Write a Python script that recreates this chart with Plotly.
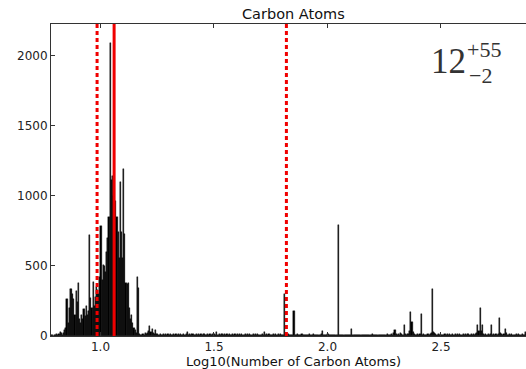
import plotly.graph_objects as go

# Histogram bins (log10 of number of carbon atoms)
BIN_START = 0.78
BIN_WIDTH = 0.005

# counts for bins 0.780 .. 1.250
PEAK_COUNTS = [
    5, 8, 3, 10, 6, 12, 8, 15, 30, 18,
    10, 25, 40, 60, 262, 90, 200, 338, 338, 300,
    267, 150, 320, 240, 378, 124, 90, 148, 120, 190,
    140, 214, 148, 180, 719, 271, 200, 386, 212, 280,
    350, 330, 300, 420, 785, 400, 505, 500, 457, 600,
    700, 850, 2090, 1111, 1140, 1000, 900, 960, 850, 740,
    560, 1100, 740, 560, 1188, 730, 380, 370, 380, 200,
    120, 148, 90, 60, 40, 20, 421, 340, 15, 10,
    8, 12, 6, 20, 14, 25, 35, 69, 30, 52,
    20, 15, 45, 12,
]

# counts for bins 1.250 .. 2.880
TAIL_COUNTS = [
    14, 9, 12, 7, 10, 16, 8, 11, 6, 13, 9, 15, 7, 10, 12, 8, 14, 6, 11, 9,
    13, 7, 10, 15, 8, 12, 29, 9, 14, 7, 11, 16, 8, 10, 13, 6, 12, 9, 15, 8,
    11, 14, 7, 10, 13, 8, 12, 6, 15, 9, 11, 7, 29, 10, 13, 8, 12, 16, 7, 11,
    9, 14, 8, 12, 6, 10, 15, 7, 13, 9, 11, 8, 14, 6, 12, 10, 7, 13, 9, 11,
    8, 12, 6, 10, 14, 7, 11, 9, 13, 5, 10, 8, 12, 7, 29, 9, 11, 6, 13, 8,
    10, 7, 12, 9, 14, 6, 11, 8, 13, 7, 10, 9, 302, 6, 8, 12, 5, 10, 7, 9,
    178, 8, 6, 11, 5, 9, 7, 12, 4, 8, 10, 6, 9, 5, 11, 7, 8, 13, 6, 9,
    5, 10, 7, 8, 12, 33, 6, 9, 4, 8, 11, 5, 7, 10, 6, 9, 4, 8, 6, 790,
    7, 5, 9, 4, 8, 6, 10, 5, 7, 9, 4, 48, 6, 8, 5, 10, 7, 4, 9, 6,
    8, 5, 7, 10, 4, 9, 6, 8, 5, 11, 7, 4, 9, 6, 8, 5, 10, 7, 6, 9,
    5, 8, 12, 7, 10, 6, 14, 9, 18, 40, 11, 8, 15, 10, 22, 12, 9, 81, 14, 10,
    16, 12, 38, 171, 100, 30, 14, 10, 8, 12, 7, 11, 155, 9, 13, 8, 10, 6, 12, 9,
    14, 18, 338, 29, 20, 12, 9, 11, 7, 13, 8, 10, 6, 12, 9, 14, 7, 11, 8, 10,
    12, 7, 15, 9, 11, 6, 13, 8, 10, 14, 7, 12, 9, 11, 16, 8, 13, 10, 12, 9,
    14, 20, 76, 35, 202, 38, 81, 15, 10, 12, 8, 13, 9, 11, 81, 10, 14, 7, 12, 9,
    16, 131, 18, 11, 9, 13, 52, 20, 10, 8, 12, 7, 11, 9, 6, 10, 13, 8, 11, 7,
    9, 12, 8, 10, 29, 11,
]

MEDIAN = 1.060
LOWER = 0.985
UPPER = 1.819

TITLE = "Carbon Atoms"
XLABEL = "Log10(Number of Carbon Atoms)"
X_TICKS = [1.0, 1.5, 2.0, 2.5]
X_TICK_TEXT = ["1.0", "1.5", "2.0", "2.5"]
Y_TICKS = [0, 500, 1000, 1500, 2000]
STAT_MAIN = "12"
STAT_UP = "+55"
STAT_DOWN = "\u22122"

counts = PEAK_COUNTS + TAIL_COUNTS
centers = [BIN_START + BIN_WIDTH * (i + 0.5) for i in range(len(counts))]

fig = go.Figure()
fig.add_trace(go.Bar(
    x=centers, y=counts, width=BIN_WIDTH,
    marker=dict(color="black", line=dict(color="black", width=0.4)),
    showlegend=False,
))

W, H = 526, 369
ML, MR, MT, MB = 51, 0, 24, 33
PW, PH = W - ML - MR, H - MT - MB


def px_x(px):
    return (px - ML) / PW


def px_y(py):
    return (H - MB - py) / PH


shapes = []
for xv, dash in [(MEDIAN, "solid"), (LOWER, "4px,3px"), (UPPER, "4px,3px")]:
    shapes.append(dict(type="line", xref="x", yref="paper", x0=xv, x1=xv, y0=0, y1=1,
                       line=dict(color="#f00000", width=3, dash=dash), layer="above"))

annotations = [
    dict(text=TITLE, xref="paper", yref="paper", x=px_x(293), y=px_y(14),
         xanchor="center", yanchor="middle", showarrow=False,
         font=dict(family="DejaVu Sans", size=14.5, color="#111")),
    dict(text=XLABEL, xref="paper", yref="paper", x=px_x(293), y=px_y(361),
         xanchor="center", yanchor="middle", showarrow=False,
         font=dict(family="DejaVu Sans", size=13, color="#111")),
    dict(text=STAT_MAIN, xref="paper", yref="paper", x=px_x(468), y=px_y(61),
         xanchor="right", yanchor="middle", showarrow=False,
         font=dict(family="Liberation Serif", size=35, color="#333")),
    dict(text=STAT_UP, xref="paper", yref="paper", x=px_x(466), y=px_y(49),
         xanchor="left", yanchor="middle", showarrow=False, borderpad=0,
         font=dict(family="Liberation Serif", size=22, color="#333")),
    dict(text=STAT_DOWN, xref="paper", yref="paper", x=px_x(468), y=px_y(76),
         xanchor="left", yanchor="middle", showarrow=False, borderpad=0,
         font=dict(family="Liberation Serif", size=22, color="#333")),
]

fig.update_layout(
    width=W, height=H,
    margin=dict(l=ML, r=MR, t=MT, b=MB, pad=0),
    paper_bgcolor="white", plot_bgcolor="white",
    bargap=0,
    shapes=shapes, annotations=annotations,
    font=dict(family="DejaVu Sans", size=12, color="#222"),
    xaxis=dict(range=[0.782, 0.782 + PW / 227.0], tickvals=X_TICKS, ticktext=X_TICK_TEXT,
               ticks="inside", ticklen=4, tickcolor="#333", showline=True, linecolor="#333",
               linewidth=1, mirror="ticks", showgrid=False, zeroline=False,
               tickfont=dict(size=12)),
    yaxis=dict(range=[0, 2226], tickvals=Y_TICKS, ticks="inside", ticklen=4,
               tickcolor="#333", showline=True, linecolor="#333", linewidth=1,
               showgrid=False, zeroline=False, tickfont=dict(size=12)),
)

fig.write_html("out.html")
